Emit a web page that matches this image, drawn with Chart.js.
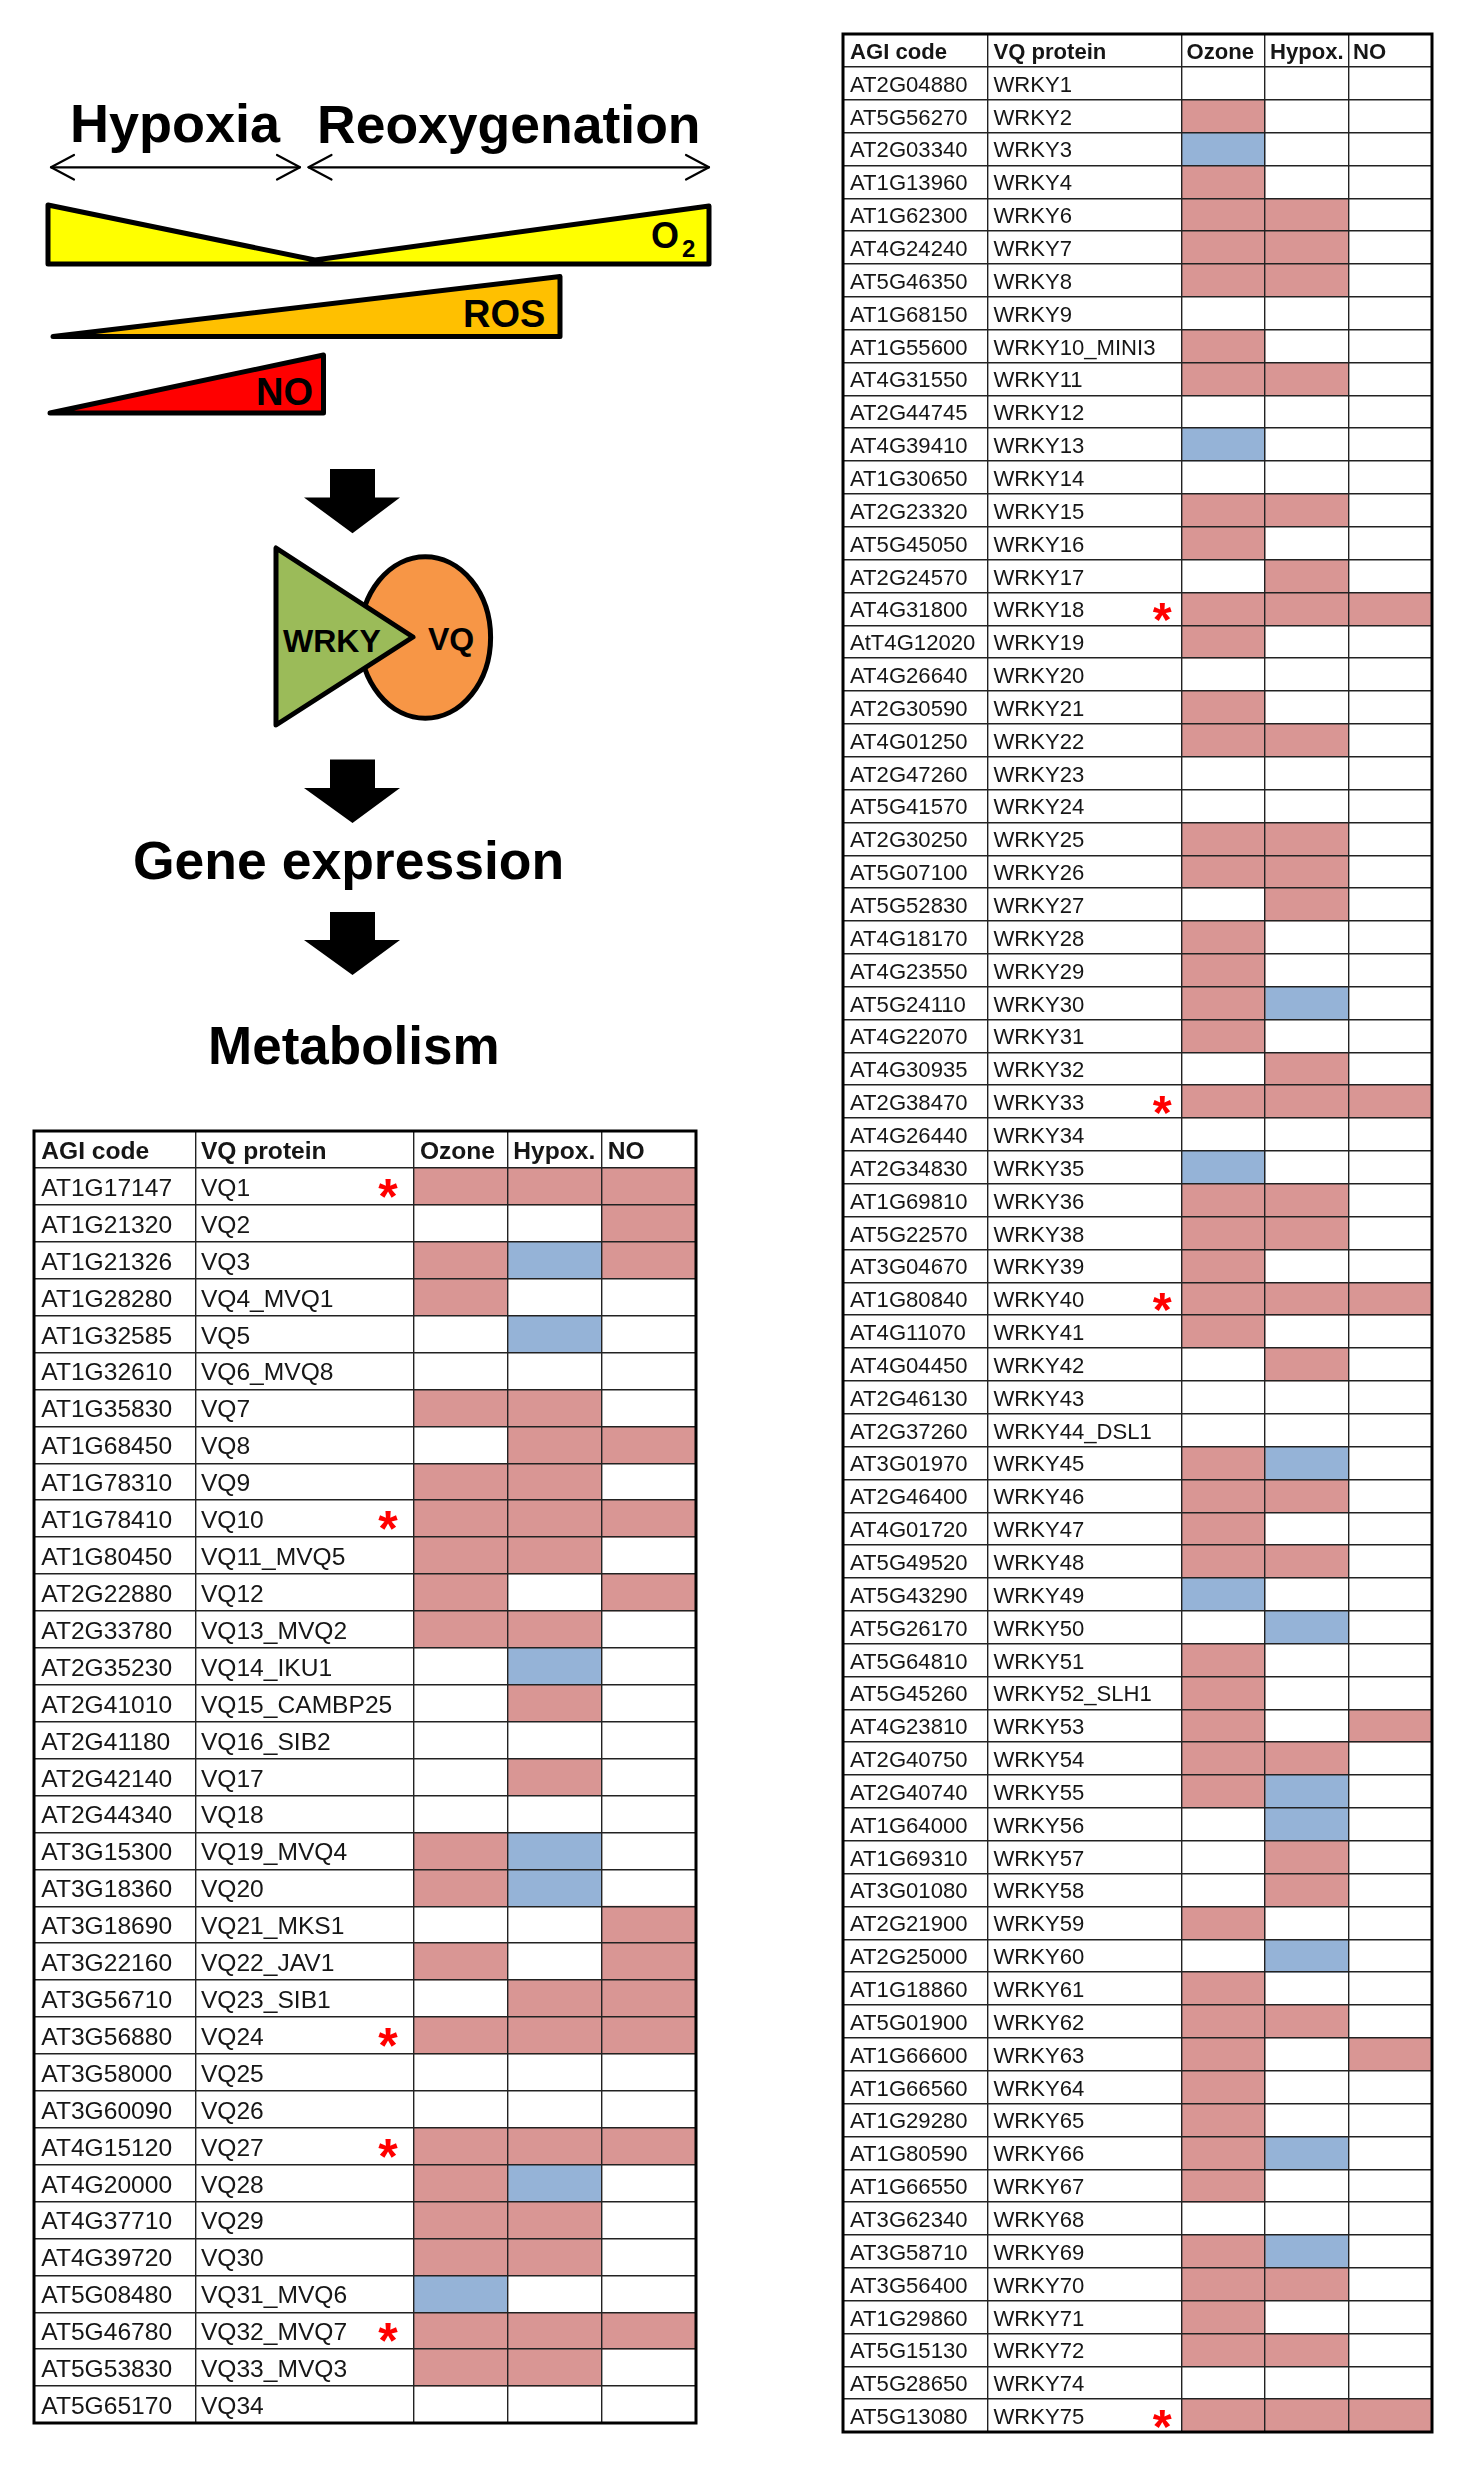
<!DOCTYPE html>
<html>
<head>
<meta charset="utf-8">
<script src="https://cdn.jsdelivr.net/npm/chart.js@4.4.1/dist/chart.umd.min.js"></script>
<style>
html,body{margin:0;padding:0;background:#fff;}
body{width:1469px;height:2467px;position:relative;overflow:hidden;font-family:'Liberation Sans',Arial,sans-serif;}
canvas{position:absolute;display:block;}
svg{position:absolute;left:0;top:0;}
</style>
</head>
<body>
<svg width="740" height="1100" viewBox="0 0 740 1100" xmlns="http://www.w3.org/2000/svg">
  <g font-family="Liberation Sans, Arial, sans-serif" font-weight="bold" fill="#000">
    <text x="70" y="142" font-size="54">Hypoxia</text>
    <text x="317" y="143" font-size="53.5">Reoxygenation</text>
  </g>
  <g stroke="#000" stroke-width="2.2" fill="none" stroke-linecap="round" stroke-linejoin="round">
    <line x1="51" y1="167.3" x2="300" y2="167.3"/>
    <polyline points="74,155 51,167.3 74,179.5"/>
    <polyline points="277,155 300,167.3 277,179.5"/>
    <line x1="308.5" y1="167.3" x2="709" y2="167.3"/>
    <polyline points="331.5,155 308.5,167.3 331.5,179.5"/>
    <polyline points="686,155 709,167.3 686,179.5"/>
  </g>
  <g stroke="#000" stroke-width="5" stroke-linejoin="round">
    <path d="M48,205 L315,260 L709,206 L709,264 L48,264 Z" fill="#FFFF00"/>
    <path d="M53,336.5 L560,276.5 L560,336.5 Z" fill="#FFC000"/>
    <path d="M50,413 L323.5,355 L323.5,413 Z" fill="#FF0000"/>
  </g>
  <g font-family="Liberation Sans, Arial, sans-serif" font-weight="bold" fill="#000">
    <text x="651" y="248" font-size="36">O</text>
    <text x="682" y="257" font-size="24">2</text>
    <text x="463" y="327" font-size="38">ROS</text>
    <text x="256" y="405" font-size="38">NO</text>
  </g>
  <g fill="#000">
    <polygon points="330,469 375,469 375,497.5 400,497.5 352.5,533.3 304,497.5 330,497.5"/>
    <polygon points="330,759.5 375,759.5 375,788 400,788 352.5,823 304,788 330,788"/>
    <polygon points="330,912 375,912 375,940 400,940 352.5,975 304,940 330,940"/>
  </g>
  <ellipse cx="425.3" cy="637.5" rx="65.3" ry="80.8" fill="#F79646" stroke="#000" stroke-width="5"/>
  <path d="M276,548 L276,725 L413,637 Z" fill="#9BBB59" stroke="#000" stroke-width="5" stroke-linejoin="round"/>
  <g font-family="Liberation Sans, Arial, sans-serif" font-weight="bold" fill="#000">
    <text x="283" y="652" font-size="32">WRKY</text>
    <text x="428" y="650" font-size="32">VQ</text>
    <text x="133" y="879" font-size="53.5">Gene expression</text>
    <text x="208" y="1064" font-size="53">Metabolism</text>
  </g>
</svg>

<canvas id="vqTable" width="666" height="1296" style="left:32px;top:1129px;width:666px;height:1296px"></canvas>
<canvas id="wrkyTable" width="593" height="2402" style="left:841px;top:32px;width:593px;height:2402px"></canvas>

<script>
// ---------------- DATA ----------------
const columnHeaders = ['AGI code', 'VQ protein', 'Ozone', 'Hypox.', 'NO'];

// 1 = up-regulated (pink), -1 = down-regulated (blue), 0 = no change
const vqCodes = ['AT1G17147','AT1G21320','AT1G21326','AT1G28280','AT1G32585','AT1G32610','AT1G35830','AT1G68450','AT1G78310','AT1G78410',
  'AT1G80450','AT2G22880','AT2G33780','AT2G35230','AT2G41010','AT2G41180','AT2G42140','AT2G44340','AT3G15300','AT3G18360',
  'AT3G18690','AT3G22160','AT3G56710','AT3G56880','AT3G58000','AT3G60090','AT4G15120','AT4G20000','AT4G37710','AT4G39720',
  'AT5G08480','AT5G46780','AT5G53830','AT5G65170'];
const vqNames = ['VQ1','VQ2','VQ3','VQ4_MVQ1','VQ5','VQ6_MVQ8','VQ7','VQ8','VQ9','VQ10',
  'VQ11_MVQ5','VQ12','VQ13_MVQ2','VQ14_IKU1','VQ15_CAMBP25','VQ16_SIB2','VQ17','VQ18','VQ19_MVQ4','VQ20',
  'VQ21_MKS1','VQ22_JAV1','VQ23_SIB1','VQ24','VQ25','VQ26','VQ27','VQ28','VQ29','VQ30',
  'VQ31_MVQ6','VQ32_MVQ7','VQ33_MVQ3','VQ34'];
const vqOzone = [1,0,1,1,0,0,1,0,1,1, 1,1,1,0,0,0,0,0,1,1, 0,1,0,1,0,0,1,1,1,1, -1,1,1,0];
const vqHypox = [1,0,-1,0,-1,0,1,1,1,1, 1,0,1,-1,1,0,1,0,-1,-1, 0,0,1,1,0,0,1,-1,1,1, 0,1,1,0];
const vqNO    = [1,1,1,0,0,0,0,1,0,1, 0,1,0,0,0,0,0,0,0,0, 1,1,1,1,0,0,1,0,0,0, 0,1,0,0];
const vqStar  = [1,0,0,0,0,0,0,0,0,1, 0,0,0,0,0,0,0,0,0,0, 0,0,0,1,0,0,1,0,0,0, 0,1,0,0];

const wrkyCodes = ['AT2G04880','AT5G56270','AT2G03340','AT1G13960','AT1G62300','AT4G24240','AT5G46350','AT1G68150','AT1G55600','AT4G31550',
  'AT2G44745','AT4G39410','AT1G30650','AT2G23320','AT5G45050','AT2G24570','AT4G31800','AtT4G12020','AT4G26640','AT2G30590',
  'AT4G01250','AT2G47260','AT5G41570','AT2G30250','AT5G07100','AT5G52830','AT4G18170','AT4G23550','AT5G24110','AT4G22070',
  'AT4G30935','AT2G38470','AT4G26440','AT2G34830','AT1G69810','AT5G22570','AT3G04670','AT1G80840','AT4G11070','AT4G04450',
  'AT2G46130','AT2G37260','AT3G01970','AT2G46400','AT4G01720','AT5G49520','AT5G43290','AT5G26170','AT5G64810','AT5G45260',
  'AT4G23810','AT2G40750','AT2G40740','AT1G64000','AT1G69310','AT3G01080','AT2G21900','AT2G25000','AT1G18860','AT5G01900',
  'AT1G66600','AT1G66560','AT1G29280','AT1G80590','AT1G66550','AT3G62340','AT3G58710','AT3G56400','AT1G29860','AT5G15130',
  'AT5G28650','AT5G13080'];
const wrkyNames = ['WRKY1','WRKY2','WRKY3','WRKY4','WRKY6','WRKY7','WRKY8','WRKY9','WRKY10_MINI3','WRKY11',
  'WRKY12','WRKY13','WRKY14','WRKY15','WRKY16','WRKY17','WRKY18','WRKY19','WRKY20','WRKY21',
  'WRKY22','WRKY23','WRKY24','WRKY25','WRKY26','WRKY27','WRKY28','WRKY29','WRKY30','WRKY31',
  'WRKY32','WRKY33','WRKY34','WRKY35','WRKY36','WRKY38','WRKY39','WRKY40','WRKY41','WRKY42',
  'WRKY43','WRKY44_DSL1','WRKY45','WRKY46','WRKY47','WRKY48','WRKY49','WRKY50','WRKY51','WRKY52_SLH1',
  'WRKY53','WRKY54','WRKY55','WRKY56','WRKY57','WRKY58','WRKY59','WRKY60','WRKY61','WRKY62',
  'WRKY63','WRKY64','WRKY65','WRKY66','WRKY67','WRKY68','WRKY69','WRKY70','WRKY71','WRKY72',
  'WRKY74','WRKY75'];
const wrkyOzone = [0,1,-1,1,1,1,1,0,1,1, 0,-1,0,1,1,0,1,1,0,1, 1,0,0,1,1,0,1,1,1,1,
  0,1,0,-1,1,1,1,1,1,0, 0,0,1,1,1,1,-1,0,1,1, 1,1,1,0,0,0,1,0,1,1, 1,1,1,1,1,0,1,1,1,1, 0,1];
const wrkyHypox = [0,0,0,0,1,1,1,0,0,1, 0,0,0,1,0,1,1,0,0,0, 1,0,0,1,1,1,0,0,-1,0,
  1,1,0,0,1,1,0,1,0,1, 0,0,-1,1,0,1,0,-1,0,0, 0,1,-1,-1,1,1,0,-1,0,1, 0,0,0,-1,0,0,-1,1,0,1, 0,1];
const wrkyNO = [0,0,0,0,0,0,0,0,0,0, 0,0,0,0,0,0,1,0,0,0, 0,0,0,0,0,0,0,0,0,0,
  0,1,0,0,0,0,0,1,0,0, 0,0,0,0,0,0,0,0,0,0, 1,0,0,0,0,0,0,0,0,0, 1,0,0,0,0,0,0,0,0,0, 0,1];
const wrkyStar = [0,0,0,0,0,0,0,0,0,0, 0,0,0,0,0,0,1,0,0,0, 0,0,0,0,0,0,0,0,0,0,
  0,1,0,0,0,0,0,1,0,0, 0,0,0,0,0,0,0,0,0,0, 0,0,0,0,0,0,0,0,0,0, 0,0,0,0,0,0,0,0,0,0, 0,1];

// ---------------- STYLE / LAYOUT ----------------
const UP_COLOR = '#D99694';
const DOWN_COLOR = '#95B3D7';
const GRID_COLOR = '#222222';
const TEXT_COLOR = '#161616';
const FONT = "'Liberation Sans', Arial, sans-serif";

const vqLayout = {
  colWidths: [161.7, 218.2, 93.7, 94.1, 94.3],
  textPads: [7.3, 5.2, 6, 5.7, 6],
  fontSize: 24.6, starOffset: -26, starHeight: 19, starDy: 2
};
const wrkyLayout = {
  colWidths: [144.6, 194, 83.5, 83.5, 83.4],
  textPads: [7, 5.8, 5, 5, 4.5],
  fontSize: 22.1, starOffset: -19.5, starHeight: 18.5, starDy: 3
};

function makeTable(canvasId, codes, names, ozone, hypox, no, star, layout) {
  const bounds = [0];
  layout.colWidths.forEach(w => bounds.push(bounds[bounds.length - 1] + w));
  const total = bounds[bounds.length - 1];
  const labels = ['header'].concat(codes);
  const series = [ozone, hypox, no];

  const datasets = series.map((vals, k) => ({
    label: columnHeaders[k + 2],
    data: [null].concat(vals.map(v => v === 0 ? null : [bounds[k + 2], bounds[k + 3]])),
    backgroundColor: [null].concat(vals.map(v => v > 0 ? UP_COLOR : DOWN_COLOR)),
    borderWidth: 0,
    barPercentage: 1,
    categoryPercentage: 1,
    grouped: false
  }));

  const textPlugin = {
    id: 'tableText_' + canvasId,
    afterDraw(chart) {
      const { ctx, scales: { x, y }, chartArea } = chart;
      ctx.save();
      const fs = layout.fontSize;
      ctx.fillStyle = TEXT_COLOR;
      ctx.textAlign = 'left';
      ctx.textBaseline = 'alphabetic';
      ctx.font = 'bold ' + fs + 'px ' + FONT;
      let capH = ctx.measureText('A').actualBoundingBoxAscent;
      const yh = y.getPixelForValue(0);
      columnHeaders.forEach((h, c) => {
        ctx.fillText(h, x.getPixelForValue(bounds[c]) + layout.textPads[c], yh + capH / 2 + 1);
      });
      ctx.font = fs + 'px ' + FONT;
      capH = ctx.measureText('A').actualBoundingBoxAscent;
      codes.forEach((code, i) => {
        const yc = y.getPixelForValue(i + 1);
        ctx.fillText(code, x.getPixelForValue(bounds[0]) + layout.textPads[0], yc + capH / 2 + 1);
        ctx.fillText(names[i], x.getPixelForValue(bounds[1]) + layout.textPads[1], yc + capH / 2 + 1);
      });
      ctx.font = 'bold 100px ' + FONT;
      const m = ctx.measureText('*');
      const hRef = m.actualBoundingBoxAscent + m.actualBoundingBoxDescent;
      const sfs = 100 * layout.starHeight / hRef;
      ctx.font = 'bold ' + sfs + 'px ' + FONT;
      const ms = ctx.measureText('*');
      ctx.fillStyle = '#FF0000';
      ctx.textAlign = 'center';
      star.forEach((s, i) => {
        if (!s) return;
        const yc = y.getPixelForValue(i + 1) + layout.starDy;
        const base = yc + (ms.actualBoundingBoxAscent - ms.actualBoundingBoxDescent) / 2;
        ctx.fillText('*', x.getPixelForValue(bounds[2]) + layout.starOffset, base);
      });
      ctx.strokeStyle = '#000';
      ctx.lineWidth = 3;
      ctx.strokeRect(chartArea.left, chartArea.top, chartArea.right - chartArea.left, chartArea.bottom - chartArea.top);
      ctx.restore();
    }
  };

  return new Chart(document.getElementById(canvasId), {
    type: 'bar',
    data: { labels, datasets },
    options: {
      indexAxis: 'y',
      responsive: false,
      maintainAspectRatio: false,
      animation: false,
      events: [],
      layout: { padding: 2 },
      plugins: { legend: { display: false }, tooltip: { enabled: false }, title: { display: false } },
      scales: {
        x: {
          type: 'linear', position: 'top', min: 0, max: total,
          ticks: { display: false },
          grid: { color: GRID_COLOR, lineWidth: 1.4, drawTicks: false, z: 1 },
          border: { display: false },
          afterBuildTicks: s => { s.ticks = bounds.map(v => ({ value: v })); },
          afterFit: s => { s.height = 0; }
        },
        y: {
          type: 'category', offset: true,
          ticks: { display: false },
          grid: { offset: true, color: GRID_COLOR, lineWidth: 1.4, drawTicks: false, z: 1 },
          border: { display: false },
          afterFit: s => { s.width = 0; }
        }
      }
    },
    plugins: [textPlugin]
  });
}

makeTable('vqTable', vqCodes, vqNames, vqOzone, vqHypox, vqNO, vqStar, vqLayout);
makeTable('wrkyTable', wrkyCodes, wrkyNames, wrkyOzone, wrkyHypox, wrkyNO, wrkyStar, wrkyLayout);
</script>
</body>
</html>
